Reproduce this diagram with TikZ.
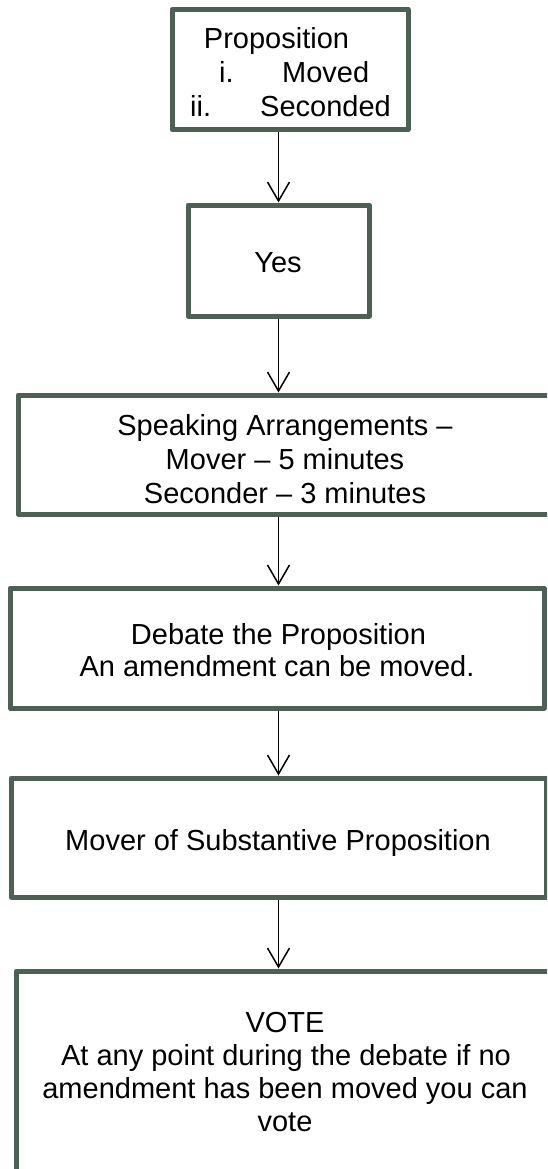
\documentclass[tikz,border=0pt]{standalone}
\usepackage{fontspec}
\setmainfont{Liberation Sans}
\usetikzlibrary{arrows.meta}
\definecolor{boxgreen}{RGB}{75,97,85}
\begin{document}
\begin{tikzpicture}[x=1pt,y=-1pt,
  box/.style={draw=boxgreen,line width=5pt,line join=round,inner sep=0pt},
  txt/.style={font=\fontsize{29}{34}\selectfont,inner sep=0pt,anchor=base},
  ltxt/.style={txt,anchor=base west},
  conn/.style={draw=black,line width=1.5pt,-{Straight Barb[length=19pt,width=22pt]}}]
\useasboundingbox (0,0) rectangle (547,1169);
\clip (0,0) rectangle (547,1169);
% boxes
\node[box,minimum width=236pt,minimum height=120pt] (b1) at (290,69.5) {};
\node[box,minimum width=181pt,minimum height=111pt] (b2) at (278.5,260.5) {};
\node[box,minimum width=534pt,minimum height=119pt] (b3) at (285,454.5) {};
\node[box,minimum width=534pt,minimum height=120pt] (b4) at (277,648) {};
\node[box,minimum width=535pt,minimum height=119pt] (b5) at (278.5,837.5) {};
\node[box,minimum width=538pt,minimum height=329pt] (b6) at (285.5,1135.5) {};
% texts
\node[txt] (t1a) at (276.5,49) {Proposition};
\node[ltxt] (t1b) at (219,83) {i.};
\node[ltxt] (t1c) at (282,83) {Moved};
\node[ltxt] (t1d) at (190,117) {ii.};
\node[ltxt] (t1e) at (260,117) {Seconded};
\node[txt] (t2) at (278,272) {Yes};
\node[txt] (t3a) at (285,435) {Speaking Arrangements –};
\node[txt] (t3b) at (285,469) {Mover – 5 minutes};
\node[txt] (t3c) at (285,503) {Seconder – 3 minutes};
\node[txt] (t4a) at (278.5,644) {Debate the Proposition};
\node[txt] (t4b) at (277,676) {An amendment can be moved.};
\node[txt] (t5) at (278,850) {Mover of Substantive Proposition};
\node[txt] (t6a) at (285,1032) {VOTE};
\node[txt] (t6b) at (286,1065) {At any point during the debate if no};
\node[txt] (t6c) at (285,1098) {amendment has been moved you can};
\node[txt] (t6d) at (285,1131) {vote};
% connectors
\draw[conn] (b2.north |- b1.south) -- (b2.north);
\draw[conn] (b2.south) -- (b2.south |- b3.north);
\draw[conn] (b2.south |- b3.south) -- (b2.south |- b4.north);
\draw[conn] (b2.south |- b4.south) -- (b2.south |- b5.north);
\draw[conn] (b2.south |- b5.south) -- (b2.south |- b6.north);
\end{tikzpicture}
\end{document}
